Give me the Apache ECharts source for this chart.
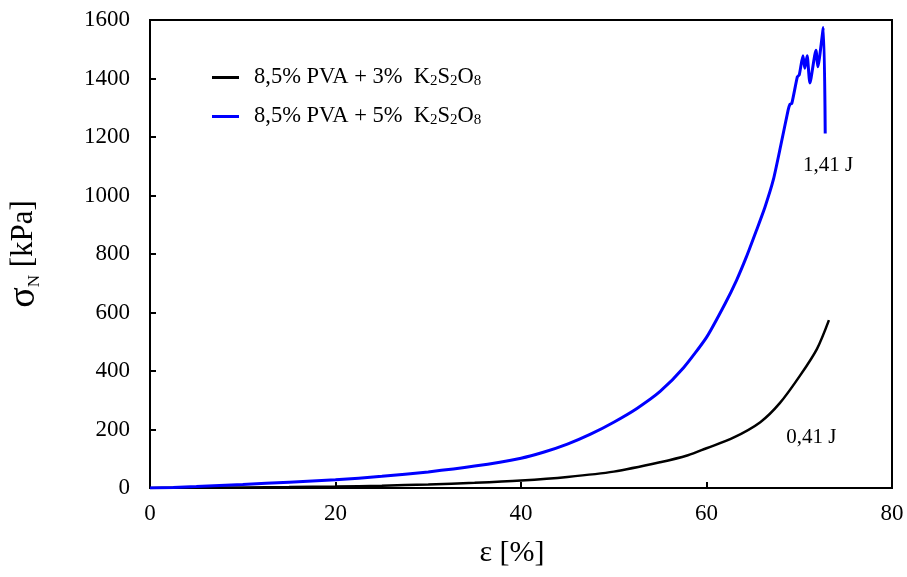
<!DOCTYPE html>
<html>
<head>
<meta charset="utf-8">
<script src="https://cdn.jsdelivr.net/npm/echarts@6/dist/echarts.min.js"></script>
<style>html,body{margin:0;padding:0;background:#fff}#c{width:907px;height:577px}</style>
</head>
<body>
<div id="c"></div>
<script>
// Strain [%] and stress [kPa] for each sample
const strain3 = [0, 5, 10, 15, 20, 25, 30, 35, 40, 45, 50, 55, 58, 60, 62.9, 65.8, 67.9, 70.1, 71.9, 73.2];
const stress3 = [0, 1, 2, 3, 5, 8, 12, 18, 26, 38, 56, 88, 112, 136, 172, 225, 290, 385, 475, 574];

const strain5 = [0, 2.5, 5, 10, 15, 20, 25, 30, 35, 40, 42.5, 45, 47.5, 50, 52.5, 55, 57.5, 60, 62, 63.25, 64.3, 65.4, 66.3, 67.2, 68.0, 68.8, 69.0, 69.2, 69.8, 70.0, 70.4, 70.6, 70.85, 71.15, 71.8, 72.0, 72.6, 72.8];
const stress5 = [0, 2, 5, 12, 20, 28, 40, 55, 75, 102, 123, 150, 184, 225, 272, 330, 410, 515, 630, 711, 790, 882, 960, 1053, 1170, 1292, 1312, 1315, 1406, 1412, 1478, 1435, 1478, 1385, 1497, 1440, 1574, 1212];

const seriesNames = ['8,5% PVA + 3%  K{s|2}S{s|2}O{s|8}', '8,5% PVA + 5%  K{s|2}S{s|2}O{s|8}'];
const energyLabels = ['0,41 J', '1,41 J'];
const energyPos = [[71.3, 174], [73.1, 1101]];

const xTicks = {min: 0, max: 80, interval: 20};
const yTicks = {min: 0, max: 1600, interval: 200};

const serif = '"Liberation Serif", "Times New Roman", serif';
const chart = echarts.init(document.getElementById('c'));

function pairs(xs, ys) { return xs.map((x, i) => [x, ys[i]]); }

chart.setOption({
  animation: false,
  backgroundColor: '#fff',
  grid: {left: 150, right: 15, top: 20, bottom: 89, outerBoundsMode: 'none', containLabel: false, show: true, borderColor: '#000', borderWidth: 2, backgroundColor: 'transparent'},
  legend: {
    left: 207, top: 61, orient: 'vertical', itemGap: 16,
    icon: 'rect', itemWidth: 27, itemHeight: 3,
    data: seriesNames,
    formatter: function (n) { return n; },
    textStyle: {
      fontFamily: serif, fontSize: 22.5, color: '#000', padding: [0, 0, 0, 10],
      rich: {s: {fontFamily: serif, fontSize: 15, color: '#000', verticalAlign: 'bottom', lineHeight: 10}}
    }
  },
  xAxis: {
    type: 'value', min: xTicks.min, max: xTicks.max, interval: xTicks.interval,
    name: 'ε [%]', nameLocation: 'middle', nameGap: 50,
    nameTextStyle: {fontFamily: serif, fontSize: 30, color: '#000', padding: [0, 18, 0, 0]},
    axisLine: {lineStyle: {color: '#000', width: 2}},
    axisTick: {inside: true, length: 6, lineStyle: {color: '#000', width: 2}},
    axisLabel: {fontFamily: serif, fontSize: 23, color: '#000', margin: 14, formatter: v => String(v)},
    splitLine: {show: false}
  },
  yAxis: {
    type: 'value', min: yTicks.min, max: yTicks.max, interval: yTicks.interval,
    name: '{g|σ}{s|N}{n| [kPa]}', nameLocation: 'middle', nameGap: 107,
    nameTextStyle: {
      fontFamily: serif, fontSize: 31, color: '#000',
      rich: {
        g: {fontFamily: serif, fontSize: 38, color: '#000'},
        s: {fontFamily: serif, fontSize: 17, color: '#000', verticalAlign: 'bottom', lineHeight: 18},
        n: {fontFamily: serif, fontSize: 31, color: '#000'}
      }
    },
    axisLine: {lineStyle: {color: '#000', width: 2}},
    axisTick: {inside: true, length: 6, lineStyle: {color: '#000', width: 2}},
    axisLabel: {fontFamily: serif, fontSize: 23, color: '#000', margin: 20, formatter: v => String(v)},
    splitLine: {show: false}
  },
  series: [
    {
      name: seriesNames[0], type: 'line', data: pairs(strain3, stress3),
      showSymbol: false, smooth: 0.3, color: '#000',
      lineStyle: {color: '#000', width: 2.5},
      markPoint: {
        symbol: 'circle', symbolSize: 0,
        label: {show: true, formatter: energyLabels[0], fontFamily: serif, fontSize: 21, color: '#000', position: 'inside'},
        data: [{coord: energyPos[0], value: energyLabels[0]}]
      }
    },
    {
      name: seriesNames[1], type: 'line', data: pairs(strain5, stress5),
      showSymbol: false, smooth: 0.2, color: '#0000ff',
      lineStyle: {color: '#0000ff', width: 3},
      markPoint: {
        symbol: 'circle', symbolSize: 0,
        label: {show: true, formatter: energyLabels[1], fontFamily: serif, fontSize: 21, color: '#000', position: 'inside'},
        data: [{coord: energyPos[1], value: energyLabels[1]}]
      }
    }
  ]
});
</script>
</body>
</html>
